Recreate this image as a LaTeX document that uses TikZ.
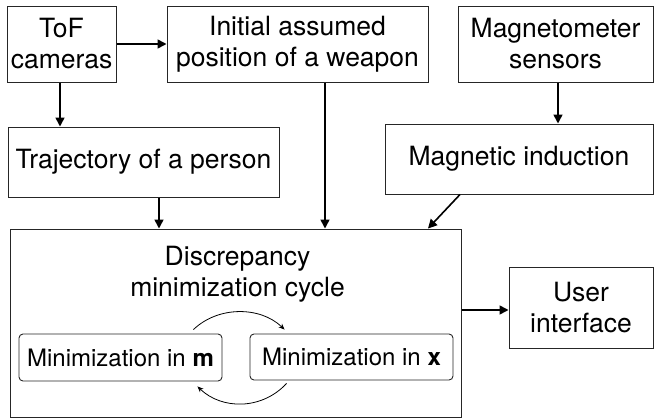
\documentclass[tikz,border=0pt]{standalone}
\usepackage{fontspec}
\setmainfont{TeX Gyre Heros}
\usetikzlibrary{arrows.meta}
\begin{document}
\begin{tikzpicture}[x=1pt,y=-1pt,
  box/.style={draw=black!85,line width=1pt,rectangle,inner sep=0pt,align=center,
    font=\fontsize{26.5}{31}\selectfont},
  inbox/.style={draw=black!85,line width=0.9pt,rectangle,rounded corners=4pt,inner sep=0pt,
    font=\fontsize{24}{28}\selectfont},
  arr/.style={line width=1.6pt,-{Triangle[length=9pt,width=9pt]}},
  carr/.style={line width=0.8pt,-{Stealth[length=6pt,width=5pt]}}]
\useasboundingbox (0,0) rectangle (654,418);
\node[box,minimum width=109,minimum height=76] (tof) at (61.5,44) {ToF\\cameras};
\node[box,minimum width=261,minimum height=76] (init) at (297.5,44) {Initial assumed\\position of a weapon};
\node[box,minimum width=195,minimum height=76] (mag) at (555.5,44) {Magnetometer\\sensors};
\node[box,minimum width=271,minimum height=70] (traj) at (143.5,162) {Trajectory of a person};
\node[box,minimum width=268,minimum height=70] (ind) at (519,159) {Magnetic induction};
\node[box,minimum width=451,minimum height=188] (big) at (235.5,323) {};
\node[font=\fontsize{26.5}{31}\selectfont,align=center,inner sep=0pt] (disc) at (237.5,274) {Discrepancy\\minimization cycle};
\node[box,minimum width=144,minimum height=81] (ui) at (581,307.5) {User\\interface};
\node[inbox,minimum width=203,minimum height=47] (mm) at (120.5,357.5) {Minimization in \textbf{m}};
\node[inbox,minimum width=203,minimum height=46] (mx) at (351.5,357) {Minimization in \textbf{x}};

\draw[arr] (tof.east) -- (init.west);
\draw[arr] ([xshift=-1.5]tof.south) -- ([xshift=-1.5]tof.south |- traj.north);
\draw[arr] ([xshift=15.5]traj.south) -- ([xshift=15.5]traj.south |- big.north);
\draw[arr] ([xshift=27.5]init.south) -- ([xshift=27.5]init.south |- big.north);
\draw[arr] ([xshift=2.5]mag.south) -- ([xshift=2.5]mag.south |- ind.north);
\draw[arr] ([xshift=-59]ind.south) -- ([xshift=192.5]big.north);
\draw[arr] (big.east |- 0,310) -- (ui.west |- 0,310);

\coordinate (a1) at ([xshift=-29,yshift=4]mm.north east);
\coordinate (a2) at ([xshift=35,yshift=4]mx.north west);
\coordinate (b1) at ([xshift=37,yshift=-3]mx.south west);
\coordinate (b2) at ([xshift=-25,yshift=-5]mm.south east);
\draw[carr] (a1) .. controls (218,306) and (260,306) .. (a2);
\draw[carr] (b1) .. controls (262,410) and (222,410) .. (b2);
\end{tikzpicture}
\end{document}
